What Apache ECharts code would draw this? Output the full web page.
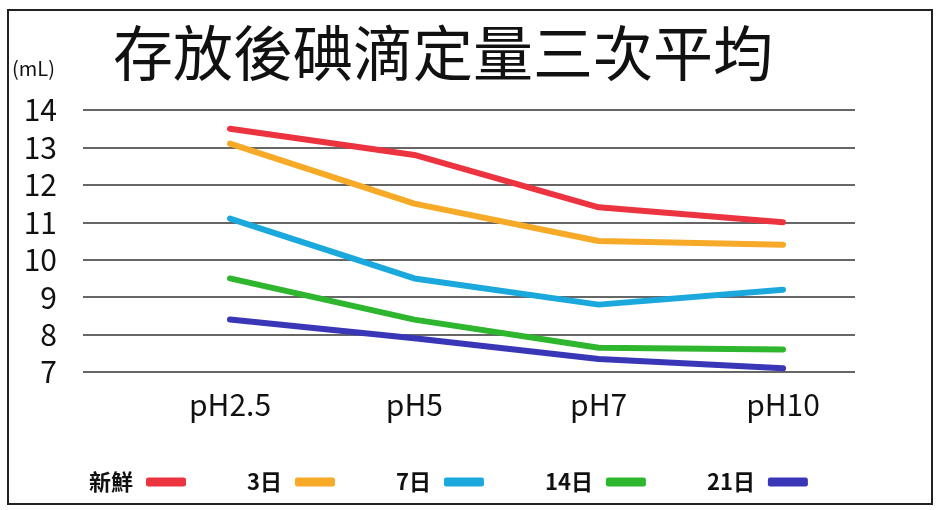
<!DOCTYPE html>
<html><head><meta charset="utf-8">
<script src="https://cdn.jsdelivr.net/npm/echarts@6/dist/echarts.min.js"></script>
<style>html,body{margin:0;padding:0;background:#fff}#c{width:939px;height:510px}</style>
</head><body><div id="c"></div>
<script>
const categories = ['pH2.5', 'pH5', 'pH7', 'pH10'];
const seriesNames = ['新鮮', '3日', '7日', '14日', '21日'];
const fresh = [13.5, 12.8, 11.4, 11.0];
const day3 = [13.1, 11.5, 10.5, 10.4];
const day7 = [11.1, 9.5, 8.8, 9.2];
const day14 = [9.5, 8.4, 7.65, 7.6];
const day21 = [8.4, 7.9, 7.35, 7.1];
const yTicks = [7, 8, 9, 10, 11, 12, 13, 14];
const colors = ['#ec3340', '#f7a928', '#1ba8dd', '#2fb62f', '#3a36b8'];
const values = [fresh, day3, day7, day14, day21];

const chart = echarts.init(document.getElementById('c'));
const font = '"Noto Sans CJK TC", "Noto Sans", sans-serif';
chart.setOption({
  backgroundColor: '#fff',
  animation: false,
  title: {
    text: '存放後碘滴定量三次平均',
    left: 108, top: 18,
    textStyle: { fontFamily: font, fontSize: 60, fontWeight: 'normal', color: '#111' }
  },
  graphic: [
    { type: 'rect', shape: { x: 8, y: 10, width: 924, height: 494 }, style: { fill: 'none', stroke: '#222', lineWidth: 2 } },
    { type: 'text', left: 12, top: 58, style: { text: '(mL)', font: '20px ' + font, fill: '#111' } }
  ],
  legend: {
    left: 84, bottom: 12,
    align: 'right',
    itemWidth: 40, itemHeight: 9, itemGap: 61,
    icon: 'roundRect',
    textStyle: { fontFamily: font, fontSize: 22, color: '#111', fontWeight: 'bold', padding: [0, 8, 0, 0] },
    data: seriesNames
  },
  grid: [
    { left: 83, right: 84, top: 110, bottom: 138 },
    { left: 230, right: 156, top: 110, bottom: 138 }
  ],
  xAxis: [
    { gridIndex: 0, type: 'category', data: categories, show: false },
    { gridIndex: 1, type: 'category', data: categories, boundaryGap: false,
      axisLine: { show: false }, axisTick: { show: false },
      axisLabel: { margin: 18, fontFamily: font, fontSize: 30, color: '#111' } }
  ],
  yAxis: [
    { gridIndex: 0, type: 'value', min: 7, max: 14, interval: 1,
      axisLine: { show: false }, axisTick: { show: false },
      axisLabel: { margin: 26, fontFamily: font, fontSize: 30, color: '#111',
        formatter: v => yTicks.includes(v) ? String(v) : '' },
      splitLine: { lineStyle: { color: '#333', width: 1.5 } } },
    { gridIndex: 1, type: 'value', min: 7, max: 14, interval: 1, show: false,
      splitLine: { show: false } }
  ],
  series: seriesNames.map((n, i) => ({
    name: n, type: 'line', xAxisIndex: 1, yAxisIndex: 1,
    data: values[i], showSymbol: false, symbol: 'roundRect',
    itemStyle: { color: colors[i] },
    lineStyle: { color: colors[i], width: 6, cap: 'round' }
  }))
});
</script></body></html>
